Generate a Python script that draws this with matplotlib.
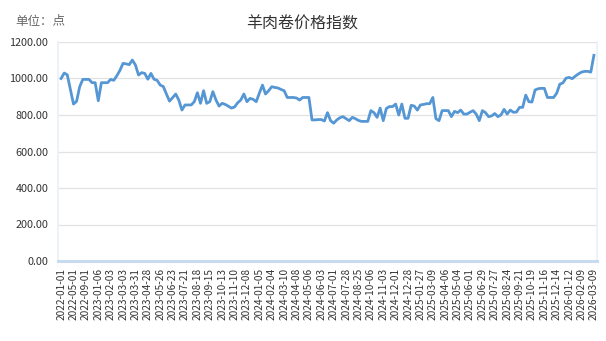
import matplotlib
matplotlib.use("Agg")
import matplotlib.pyplot as plt

plt.rcParams['font.family'] = ['Noto Sans CJK SC', 'DejaVu Sans']

title = "羊肉卷价格指数"
unit_label = "单位：点"

values = [
    1000, 1030, 1020, 940, 860, 875, 955, 995, 995, 995, 977, 977,
    878, 977, 977, 977, 995, 990, 1015, 1045, 1083, 1080, 1076, 1101,
    1074, 1019, 1032, 1028, 996, 1028, 996, 990, 964, 956, 915, 876,
    895, 915, 882, 827, 855, 855, 855, 873, 922, 864, 933, 864,
    873, 928, 882, 849, 864, 858, 848, 838, 844, 867, 882, 915,
    873, 891, 886, 873, 920, 964, 915, 933, 955, 951, 948, 940,
    933, 896, 896, 896, 893, 882, 896, 896, 896, 773, 773, 775,
    775, 767, 813, 769, 755, 773, 785, 791, 780, 769, 787, 780,
    770, 765, 765, 765, 824, 813, 787, 838, 769, 836, 846, 846,
    860, 800, 860, 782, 782, 853, 849, 827, 855, 858, 862, 862,
    896, 780, 769, 824, 824, 824, 791, 820, 813, 827, 805, 805,
    815, 824, 805, 769, 824, 813, 791, 795, 808, 791, 800, 831,
    805, 827, 815, 816, 842, 842, 909, 873, 871, 937, 944, 946,
    946, 896, 896, 896, 920, 969, 976, 1002, 1006, 999, 1013, 1025,
    1035, 1039, 1039, 1035, 1127,
]

tick_labels = [
    "2022-01-01", "2022-05-01", "2022-09-01", "2023-01-06", "2023-02-03",
    "2023-03-03", "2023-03-31", "2023-04-28", "2023-05-26", "2023-06-23",
    "2023-07-21", "2023-08-18", "2023-09-15", "2023-10-13", "2023-11-10",
    "2023-12-08", "2024-01-05", "2024-02-04", "2024-03-10", "2024-04-08",
    "2024-05-06", "2024-06-03", "2024-07-01", "2024-07-28", "2024-08-25",
    "2024-10-06", "2024-11-03", "2024-12-01", "2024-12-28", "2025-01-27",
    "2025-03-09", "2025-04-06", "2025-05-04", "2025-06-01", "2025-06-29",
    "2025-07-27", "2025-08-24", "2025-09-21", "2025-10-19", "2025-11-16",
    "2025-12-14", "2026-01-12", "2026-02-09", "2026-03-09",
]

y_ticks = [0, 200, 400, 600, 800, 1000, 1200]

fig = plt.figure(figsize=(6.06, 3.41), dpi=100)
ax = fig.add_axes([58/606, 80/341, 539/606, 219/341])

x = list(range(len(values)))
ax.plot(x, values, color='#5596D4', lw=2.0, solid_joinstyle='round', zorder=3)

ax.set_ylim(0, 1200)
ax.set_xlim(-1, len(values))
ax.set_yticks(y_ticks)
ax.set_yticklabels([f"{v:.2f}" for v in y_ticks])
ax.set_xticks(list(range(0, len(values), 4)))
ax.set_xticklabels(tick_labels, rotation=90)

ax.grid(axis='y', color='#E2E2E2', lw=0.9)
ax.set_axisbelow(True)
ax.tick_params(axis='both', length=0, colors='#333333')
ax.tick_params(axis='y', labelsize=7.8, pad=7)
ax.tick_params(axis='x', labelsize=7.3, pad=5)

ax.spines['top'].set_visible(False)
ax.spines['left'].set_color('#EAF0F8')
ax.spines['right'].set_color('#EAF0F8')
ax.spines['left'].set_linewidth(1.2)
ax.spines['right'].set_linewidth(1.2)
ax.spines['bottom'].set_color('#C8DAF0')
ax.spines['bottom'].set_linewidth(2.2)

fig.text(302/606, 1 - 24/341, title, ha='center', va='center', fontsize=11.5, color='#333333')
fig.text(15/606, 1 - 21/341, unit_label, ha='left', va='center', fontsize=9, color='#666666')

fig.savefig("out.png", dpi=100)
